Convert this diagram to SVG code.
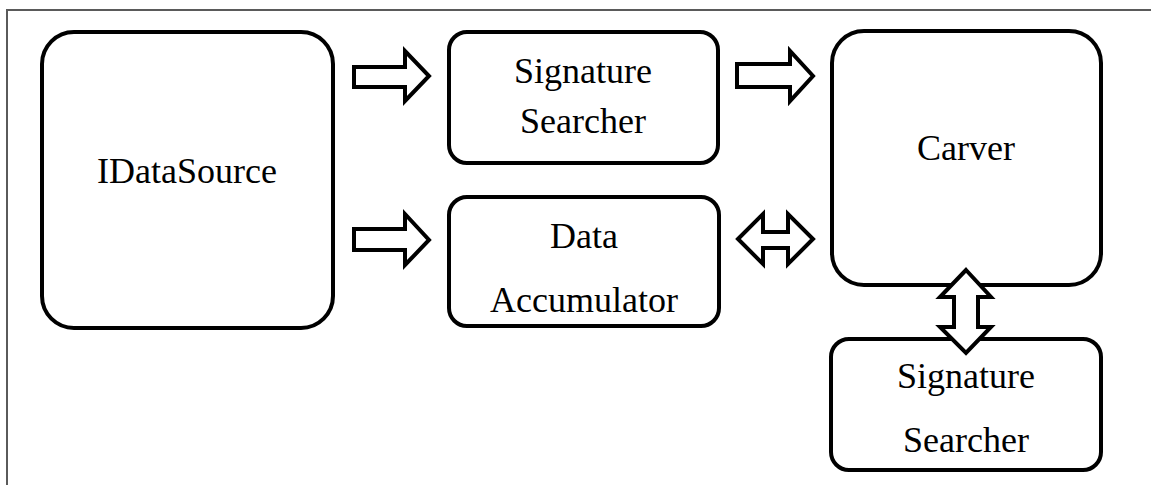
<svg xmlns="http://www.w3.org/2000/svg" width="1151" height="485" viewBox="0 0 1151 485">
<style>
.frame{fill:none;stroke:#5a5a5a;stroke-width:2}
.box{fill:#fff;stroke:#000;stroke-width:4}
.arrow{fill:#fff;stroke:#000;stroke-width:4;stroke-linejoin:miter}
.t{font-family:"Liberation Serif","Times New Roman",Times,Tinos,"Nimbus Roman","Noto Serif","DejaVu Serif",FreeSerif,serif;font-size:36px;fill:#000;text-anchor:middle}
</style>
<rect width="1151" height="485" fill="#fff"/>
<rect class="frame" x="7" y="10" width="1170" height="500"/>
<g id="node-idatasource">
<rect class="box" x="42" y="32" width="291" height="296" rx="32"/>
<text class="t" x="187" y="183">IDataSource</text>
</g>
<g id="node-signature-searcher-1">
<rect class="box" x="449" y="32" width="269" height="131" rx="18"/>
<text class="t" x="583" y="83">Signature</text>
<text class="t" x="583" y="133">Searcher</text>
</g>
<g id="node-data-accumulator">
<rect class="box" x="449" y="197" width="270" height="129" rx="18"/>
<text class="t" x="584" y="248">Data</text>
<text class="t" x="584" y="312">Accumulator</text>
</g>
<g id="node-carver">
<rect class="box" x="832" y="31" width="269" height="254" rx="32"/>
<text class="t" x="966" y="160">Carver</text>
</g>
<g id="node-signature-searcher-2">
<rect class="box" x="831" y="339" width="270" height="131" rx="18"/>
<text class="t" x="966" y="388">Signature</text>
<text class="t" x="966" y="452">Searcher</text>
</g>
<g id="connectors">
<polygon class="arrow" points="354,67 405,67 405,51 429,76 405,101 405,87 354,87"/>
<polygon class="arrow" points="354,229 405,229 405,214 429,240 405,265 405,250 354,250"/>
<polygon class="arrow" points="737,64 790,64 790,51 813,76 790,101 790,87 737,87"/>
<polygon class="arrow" points="738,239 763,214 763,232 788,232 788,214 813,239 788,264 788,248 763,248 763,264"/>
<polygon class="arrow" points="966,270 991,297 978,297 978,327 991,327 966,353 940,327 954,327 954,297 940,297"/>
</g>
</svg>
